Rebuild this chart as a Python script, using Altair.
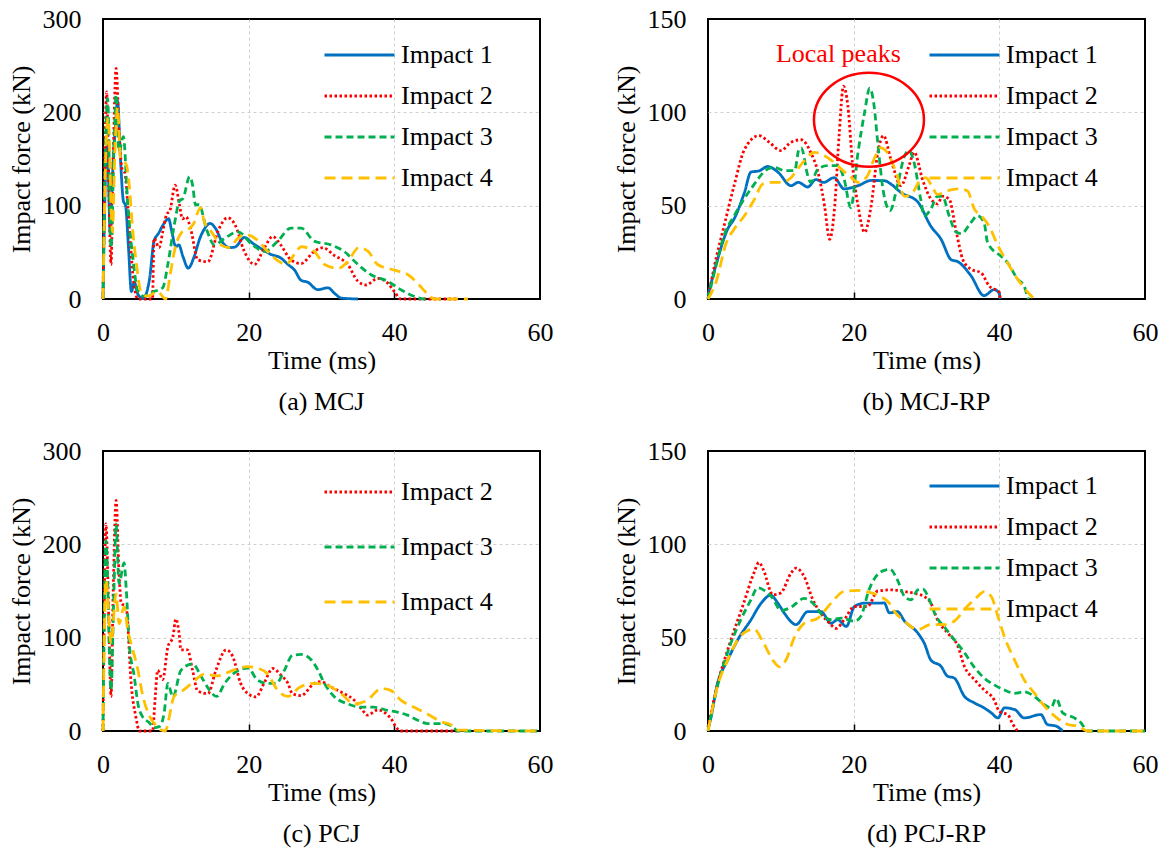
import altair as alt
import pandas as pd

FONT = "Liberation Serif"

SERIES = ["Impact 1", "Impact 2", "Impact 3", "Impact 4"]
COLORS = ["#0070C0", "#FF0000", "#00B050", "#FFC000"]
DASHES = [[1, 0], [2.5, 2.5], [7, 4], [11, 6]]

X_TICKS = [0, 20, 40, 60]
X_INNER_TICKS = [20, 40]

# ---------------- (a) MCJ ----------------
A1_t = [0, 0.3, 0.6, 1.0, 1.3, 1.7, 2.0, 2.4, 2.8, 3.1, 3.5, 3.9, 4.3, 4.8, 5.5, 6.4, 7.0, 7.6, 8.3, 9.0, 9.5, 10.0, 10.4, 11.0, 11.7, 12.5, 13.3, 14.0, 14.7, 15.5, 16.3, 17.4, 18.2, 19.4, 20.5, 21.7, 23.0, 24.4, 25.4, 26.3, 27.2, 28.1, 29.5, 30.9, 31.8, 32.7, 34.0, 35.0]
A1_f = [0, 120, 165, 70, 130, 185, 212, 150, 105, 100, 55, 8, 18, 5, 0.5, 22, 62, 70, 80, 86, 70, 56, 58, 45, 33, 45, 65, 76, 81, 75, 62, 55, 56, 66, 60, 54, 48, 44, 37, 31, 20, 18, 10, 12, 6, 1, 0.3, 0]
A2_t = [0, 0.25, 0.5, 0.8, 1.1, 1.4, 1.8, 2.2, 2.6, 3.0, 3.4, 3.8, 4.1, 4.8, 6.8, 7.0, 7.7, 8.2, 8.7, 9.2, 9.9, 10.5, 10.9, 11.4, 12.1, 13.0, 14.4, 15.8, 17.1, 18.1, 19.4, 20.8, 22.1, 23.3, 24.4, 25.8, 27.2, 29.0, 30.2, 31.7, 33.6, 35.0, 36.1, 37.7, 39.1, 40.0, 40.9, 48.7]
A2_f = [0, 150, 222, 120, 37, 150, 247, 180, 140, 135, 100, 55, 26, 0, 0, 65, 55, 72, 90, 95, 122, 101, 86, 88, 73, 42, 40, 73, 87, 80, 51, 37, 54, 67, 58, 42, 38, 51, 55, 47, 37, 19, 15, 22, 17, 8, 0, 0]
A3_t = [0, 0.3, 0.64, 1.1, 1.5, 1.8, 2.2, 2.8, 3.4, 4.1, 4.8, 5.6, 7.0, 8.2, 8.9, 9.8, 10.5, 11.0, 11.9, 12.3, 12.7, 13.2, 14.2, 15.3, 16.7, 18.5, 20.5, 22.2, 24.0, 25.8, 27.2, 29.0, 31.3, 33.1, 35.0, 36.8, 39.1, 40.9, 42.7, 44.1, 44.6]
A3_f = [0, 150, 215, 55, 160, 219, 158, 174, 101, 44, 8, 3, 8, 12, 37, 80, 105, 108, 131, 122, 101, 101, 75, 58, 65, 72, 58, 51, 62, 76, 76, 62, 58, 51, 37, 26, 19, 10, 3, 0, 0]
A4_t = [0, 0.3, 0.7, 1.3, 1.6, 2.0, 2.4, 3.2, 3.6, 4.1, 4.6, 5.2, 6.1, 7.5, 8.6, 9.2, 9.8, 10.9, 11.6, 12.4, 13.4, 13.9, 14.8, 16.2, 17.3, 18.5, 19.6, 21.2, 22.6, 24.2, 25.1, 26.3, 27.2, 29.0, 30.4, 32.3, 33.6, 35.1, 36.4, 37.7, 40.0, 41.9, 43.4, 44.6, 45.5, 50.1]
A4_f = [0, 130, 194, 72, 150, 205, 151, 144, 122, 72, 37, 8, 3, 8, 0, 25, 51, 72, 74, 80, 98, 83, 73, 58, 55, 65, 69, 63, 51, 40, 37, 48, 56, 51, 37, 33, 40, 55, 51, 37, 31, 26, 15, 5, 0, 0]

# ---------------- (b) MCJ-RP ----------------
B1_t = [0, 1.3, 2.7, 3.6, 5.0, 5.9, 7.0, 8.2, 9.6, 11.4, 12.4, 13.7, 14.8, 15.9, 17.3, 18.7, 20.6, 22.4, 24.2, 25.1, 26.5, 28.8, 30.6, 32.0, 33.4, 34.3, 36.1, 37.9, 39.3, 40.0, 40.1]
B1_f = [2, 21, 37.5, 43, 57, 68, 68.6, 71, 68, 60.7, 62.5, 60, 64, 62.5, 65, 59, 60.7, 63.5, 63.4, 61.6, 57, 52, 39, 32, 21, 20, 12.5, 1.8, 5, 3, 0]
B2_t = [0, 0.9, 2.2, 3.6, 5.0, 7.0, 8.4, 10.0, 11.4, 12.8, 14.1, 15.1, 16.0, 16.7, 17.4, 18.0, 18.6, 19.2, 19.9, 20.6, 21.5, 22.4, 23.3, 24.1, 25.1, 26.5, 27.6, 28.3, 29.5, 30.6, 31.5, 32.2, 33.1, 34.1, 35.0, 36.1, 37.5, 38.6, 40.0, 40.1]
B2_f = [0, 18, 39, 61, 80, 87.5, 84, 79.5, 84, 85.3, 78.6, 68, 50, 32, 50, 87.5, 114, 103.6, 69.6, 50, 35.7, 50, 78, 87.5, 75, 60.7, 71.4, 78.6, 63.4, 53.6, 51, 55, 53.6, 35.7, 21, 16, 14, 7, 3.6, 0]
B3_t = [0, 1.3, 2.2, 3.6, 5.9, 8.2, 9.1, 10.5, 11.9, 12.5, 12.8, 13.7, 14.1, 15.1, 16.4, 17.8, 18.7, 19.6, 20.6, 21.5, 22.2, 22.8, 23.3, 24.1, 25.0, 26.0, 27.0, 27.6, 28.3, 29.2, 29.7, 30.6, 31.5, 32.2, 33.1, 34.1, 34.8, 36.1, 37.0, 37.9, 38.4, 40.2, 41.1, 42.5, 43.4, 43.9, 44.0]
B3_f = [0, 21, 34, 44.6, 59, 69.6, 70.5, 68.8, 68.8, 80.4, 81, 66, 62.5, 69.6, 71.4, 71.4, 64, 49, 78.6, 100, 113, 103.6, 84, 57, 47.3, 60.7, 76.8, 79.5, 73, 53.6, 44.6, 48.2, 55, 55, 44.6, 35.7, 35, 41, 44.6, 41, 30, 23, 19.6, 10.7, 7, 1, 0]
B4_t = [0, 1.1, 2.5, 3.6, 5.0, 6.4, 7.5, 8.7, 10.0, 11.4, 12.3, 13.2, 14.6, 16.0, 17.3, 18.3, 19.4, 20.6, 21.9, 22.8, 23.7, 24.6, 25.8, 27.0, 28.1, 29.2, 29.9, 30.8, 31.5, 32.9, 34.3, 35.6, 36.6, 37.5, 38.6, 39.8, 41.1, 42.5, 43.9, 44.8]
B4_f = [0, 9, 30, 37.5, 44.6, 53.6, 61.6, 62.5, 62.5, 65, 69.6, 74, 78.6, 76.8, 73.2, 69.6, 66, 62.5, 66, 75, 81, 78.6, 68, 55, 57, 64, 65, 60, 56, 58, 59, 58, 48, 44.6, 39, 28.6, 19.6, 10.7, 3.6, 0]

# ---------------- (c) PCJ ----------------
C2_t = [0, 0.2, 0.4, 0.8, 1.1, 1.4, 1.8, 2.2, 2.5, 3.2, 3.4, 3.8, 4.5, 5.0, 6.8, 7.2, 7.5, 8.2, 8.9, 9.6, 10.0, 10.5, 10.7, 11.6, 12.3, 13.0, 14.4, 15.5, 16.9, 17.8, 18.9, 19.9, 21.0, 22.1, 23.3, 24.4, 25.4, 26.0, 27.2, 29.0, 29.9, 31.3, 33.1, 34.5, 35.6, 36.3, 37.7, 39.1, 39.7, 40.2, 40.9, 48.7]
C2_f = [0, 150, 222, 120, 37, 150, 247, 170, 137, 133, 115, 58, 15.7, 0, 0, 40, 65, 55, 90, 101, 120, 101, 87, 87, 65, 43, 40, 65, 87, 80, 51, 40, 36.5, 51, 67, 60, 51, 40, 38, 51, 53, 47, 40, 33, 22.5, 17, 22.5, 17, 11.6, 4.6, 0, 0]
C3_t = [0, 0.4, 1.1, 1.5, 1.8, 2.2, 2.9, 3.2, 3.6, 4.3, 4.8, 5.4, 6.4, 7.0, 7.8, 8.4, 8.9, 9.6, 10.7, 12.3, 13.5, 14.6, 15.6, 16.7, 18.0, 19.9, 21.2, 22.6, 23.8, 24.9, 26.0, 27.2, 28.6, 29.5, 30.4, 31.8, 33.6, 35.4, 37.2, 39.1, 40.5, 41.8, 43.2, 44.6, 46.9, 48.0, 48.7, 60]
C3_f = [0, 204, 44, 150, 222, 158, 180, 151, 94, 58, 29, 15.7, 8.6, 3.3, 5, 19.6, 51, 36.5, 65, 72, 58, 44, 37, 51, 62, 67.5, 54.6, 51, 51, 65, 81, 82, 76, 65.5, 51, 36.5, 29, 25.5, 25.5, 22, 20, 17, 11.6, 8, 8, 4.6, 0, 0]
C4_t = [0, 0.4, 1.1, 1.8, 2.2, 2.9, 3.4, 4.1, 4.8, 5.4, 6.4, 7.0, 8.0, 8.5, 9.8, 10.9, 12.3, 13.9, 15.7, 18.0, 19.9, 21.2, 22.6, 24.0, 25.4, 27.0, 29.0, 30.8, 32.7, 34.5, 36.3, 38.2, 39.5, 40.9, 42.7, 44.6, 46.4, 47.8, 48.7, 60]
C4_f = [0, 162, 94, 147, 115, 133, 108, 87, 65, 40, 15.7, 8.6, 1, 0, 37.5, 43, 51.8, 61, 59, 65.5, 69, 67.5, 61, 43.5, 37, 47, 51, 49, 40, 29, 33, 45.5, 43.5, 33, 25.5, 18, 10, 6.5, 1, 0]

# ---------------- (d) PCJ-RP ----------------
D1_t = [0, 0.2, 1.3, 2.7, 4.1, 5.9, 7.3, 8.6, 9.6, 10.5, 12.1, 13.7, 15.5, 16.9, 17.8, 19.0, 20.1, 21.5, 23.3, 24.2, 24.9, 26.0, 27.0, 28.8, 29.7, 30.6, 32.0, 32.9, 33.8, 35.2, 36.6, 37.9, 38.9, 39.8, 40.7, 42.1, 43.4, 45.7, 46.6, 47.8, 48.7]
D1_f = [2, 4, 25.4, 38, 49, 59.6, 68.5, 72.7, 68.5, 63, 57, 64, 64, 57.7, 59.6, 56, 66.7, 68.5, 68.5, 68.6, 63.3, 64, 58.8, 52.5, 47, 38, 34.6, 29.3, 28.4, 18.6, 15, 12.4, 9.7, 7, 12.4, 11.5, 7, 8.8, 3.5, 2.6, 0]
D2_t = [0, 0.2, 1.3, 3.0, 4.9, 6.3, 7.0, 7.6, 8.9, 10.0, 11.4, 12.1, 13.2, 14.4, 15.5, 16.7, 17.6, 18.7, 20.1, 21.9, 23.3, 25.1, 27.0, 28.3, 29.7, 30.6, 31.5, 32.9, 34.3, 35.2, 36.6, 37.9, 39.3, 40.0, 41.2, 41.8, 42.5]
D2_f = [2, 5.6, 25, 47, 68.5, 84.6, 90.3, 86.4, 73, 74, 84.6, 87.3, 82.8, 70.3, 63, 57.7, 55, 59.6, 66.7, 66.7, 75, 75.6, 74.7, 73.8, 72, 68.5, 59.6, 52.5, 45.5, 34.6, 27.5, 22, 16.6, 10.4, 8.6, 4, 0]
D3_t = [0, 1.3, 3.0, 4.5, 5.9, 6.8, 7.6, 8.9, 10.0, 11.4, 13.2, 14.4, 15.5, 16.9, 18.3, 20.1, 21.0, 22.1, 23.5, 24.6, 25.0, 26.0, 27.0, 27.9, 28.8, 29.5, 30.4, 31.3, 32.4, 33.8, 35.2, 36.6, 37.9, 39.3, 40.7, 42.1, 43.4, 44.8, 46.2, 47.1, 47.8, 48.7, 50.3, 51.2, 52.1, 60]
D3_f = [0, 24, 45.5, 59.6, 70.3, 76.7, 75.6, 71, 64.5, 66.3, 71, 68.5, 63, 59.6, 60.5, 58.8, 61.5, 75.6, 84.6, 86.4, 86.6, 81, 72, 70.3, 75.6, 76, 70.3, 61.5, 56, 49, 42, 34, 28.4, 24.7, 22, 20.2, 21, 18.6, 14, 12.4, 17.5, 9.7, 7, 4.4, 0, 0]
D4_t = [0, 1.3, 2.7, 4.1, 5.4, 6.3, 7.6, 8.9, 9.8, 10.7, 11.9, 13.2, 15.1, 16.9, 18.7, 20.6, 22.4, 23.7, 24.9, 25.6, 27.0, 28.8, 30.6, 32.4, 33.8, 35.6, 37.0, 37.9, 38.9, 39.8, 40.7, 42.1, 43.4, 44.8, 46.2, 47.6, 49.4, 50.8, 52.1, 60]
D4_f = [0, 24, 38, 49, 53.7, 54.6, 47.3, 38, 34.4, 38, 50.5, 57.7, 60.5, 68.5, 74.8, 75.3, 74, 72, 68.5, 64, 58.8, 54.3, 57, 57, 58.8, 66.8, 72, 74.7, 72, 61.5, 50.5, 38, 27.5, 20.4, 13.3, 8, 3.5, 2.6, 0, 0]

# annotation in (b)
PEAK_LABEL = "Local peaks"
PEAK_LABEL_T = 17.9
PEAK_LABEL_F = 131
ELLIPSE_T = 22.1
ELLIPSE_F = 96
ELLIPSE_PATH = "M-1.17,0A1.17,1,0,1,0,1.17,0A1.17,1,0,1,0,-1.17,0Z"

PLOT_W = 437
PLOT_H = 280
XSCALE = alt.Scale(domain=[0, 60], nice=False)
GRID_X_OPACITY = {"condition": {"test": "datum.value <= 0 || datum.value >= 60", "value": 0}, "value": 1}


def y_axis(ymax, ystep):
    return alt.Axis(
        values=list(range(0, ymax + 1, ystep)), title="Impact force (kN)",
        grid=True, gridDash=[3, 3], gridColor="#d0d0d0", gridWidth=1,
        gridOpacity={"condition": {"test": f"datum.value <= 0 || datum.value >= {ymax}", "value": 0}, "value": 1},
        ticks=False, domain=False, labelFont=FONT, labelFontSize=26,
        labelColor="black", labelPadding=22, labelFlush=False,
        titleFont=FONT, titleFontSize=26, titleFontWeight="normal",
        titleColor="black", titlePadding=8,
    )


def panel(series, ymax, ystep, legend_y, row_pad, caption, extra_layers=()):
    rows = []
    names = []
    for name, ts, fs in series:
        names.append(name)
        for t, f in zip(ts, fs):
            rows.append({"t": t, "F": f, "series": name})
    df = pd.DataFrame(rows)
    idx = [SERIES.index(n) for n in names]
    legend = alt.Legend(
        title=None, orient="none", legendX=220, legendY=legend_y,
        direction="vertical", symbolType="stroke", symbolSize=4900,
        symbolStrokeWidth=3, labelFont=FONT, labelFontSize=26,
        labelColor="black", clipHeight=34, rowPadding=row_pad,
        labelOffset=5, padding=0, symbolOffset=0, labelLimit=0,
    )
    yscale = alt.Scale(domain=[0, ymax], nice=False)
    x_enc = alt.X(
        "t:Q", scale=XSCALE,
        axis=alt.Axis(
            values=X_TICKS, title="Time (ms)", grid=True, gridDash=[3, 3],
            gridColor="#d0d0d0", gridWidth=1, gridOpacity=GRID_X_OPACITY,
            ticks=False, domain=False,
            labelFont=FONT, labelFontSize=26, labelColor="black",
            labelPadding=20, labelFlush=False, titleFont=FONT,
            titleFontSize=26, titleFontWeight="normal", titleColor="black",
            titlePadding=2,
        ),
    )
    y_enc = alt.Y("F:Q", scale=yscale, axis=y_axis(ymax, ystep))
    lines = alt.Chart(df).mark_line(strokeWidth=2.8, interpolate="monotone").encode(
        x=x_enc,
        y=y_enc,
        color=alt.Color("series:N", scale=alt.Scale(domain=names, range=[COLORS[i] for i in idx]), legend=legend),
        strokeDash=alt.StrokeDash("series:N", scale=alt.Scale(domain=names, range=[DASHES[i] for i in idx]), legend=legend),
    )
    # inward tick marks on the bottom edge
    tick_axis = alt.Axis(orient="top", offset=-PLOT_H, values=X_INNER_TICKS, labels=False,
                         domain=False, grid=False, ticks=True, tickSize=7, tickWidth=1.5,
                         tickColor="black", title=None)
    tick_layer = alt.Chart(df).mark_line(opacity=0).encode(
        x=alt.X("t:Q", scale=XSCALE, axis=tick_axis),
        y=alt.Y("F:Q", scale=yscale, axis=y_axis(ymax, ystep)),
        detail="series:N",
    )
    layers = [lines] + list(extra_layers) + [tick_layer]
    return alt.layer(*layers).resolve_axis(x="independent").properties(
        width=PLOT_W, height=PLOT_H,
        title=alt.TitleParams(caption, orient="bottom", frame="group", anchor="middle",
                              font=FONT, fontSize=26, fontWeight="normal", color="black", offset=16),
    )


ann_df = pd.DataFrame({"t": [PEAK_LABEL_T], "F": [PEAK_LABEL_F], "label": [PEAK_LABEL]})
ell_df = pd.DataFrame({"t": [ELLIPSE_T], "F": [ELLIPSE_F]})
peak_text = alt.Chart(ann_df).mark_text(font=FONT, fontSize=26, color="#FF0000").encode(
    x=alt.X("t:Q", scale=XSCALE, axis=None), y=alt.Y("F:Q", axis=y_axis(150, 50)), text="label:N")
peak_ellipse = alt.Chart(ell_df).mark_point(shape=ELLIPSE_PATH, size=8836, filled=False,
                                            color="#FF0000", strokeWidth=2.5, opacity=1).encode(
    x=alt.X("t:Q", scale=XSCALE, axis=None), y=alt.Y("F:Q", axis=y_axis(150, 50)))

pa = panel([("Impact 1", A1_t, A1_f), ("Impact 2", A2_t, A2_f), ("Impact 3", A3_t, A3_f), ("Impact 4", A4_t, A4_f)],
           300, 100, 19, 7, "(a) MCJ")
pb = panel([("Impact 1", B1_t, B1_f), ("Impact 2", B2_t, B2_f), ("Impact 3", B3_t, B3_f), ("Impact 4", B4_t, B4_f)],
           150, 50, 19, 7, "(b) MCJ-RP", [peak_ellipse, peak_text])
pc = panel([("Impact 2", C2_t, C2_f), ("Impact 3", C3_t, C3_f), ("Impact 4", C4_t, C4_f)],
           300, 100, 24, 21, "(c) PCJ")
pd_ = panel([("Impact 1", D1_t, D1_f), ("Impact 2", D2_t, D2_f), ("Impact 3", D3_t, D3_f), ("Impact 4", D4_t, D4_f)],
            150, 50, 18, 7, "(d) PCJ-RP")

top = alt.hconcat(pa, pb, spacing=58).resolve_scale(color="independent", strokeDash="independent")
bottom = alt.hconcat(pc, pd_, spacing=58).resolve_scale(color="independent", strokeDash="independent")
chart = alt.vconcat(top, bottom, spacing=21).resolve_scale(
    color="independent", strokeDash="independent"
).properties(
    padding={"left": 7, "top": 5, "right": 0, "bottom": 0}, background="white"
).configure_view(stroke="black", strokeWidth=2)

chart.save("out.html", embed_options={"renderer": "svg", "actions": False})
